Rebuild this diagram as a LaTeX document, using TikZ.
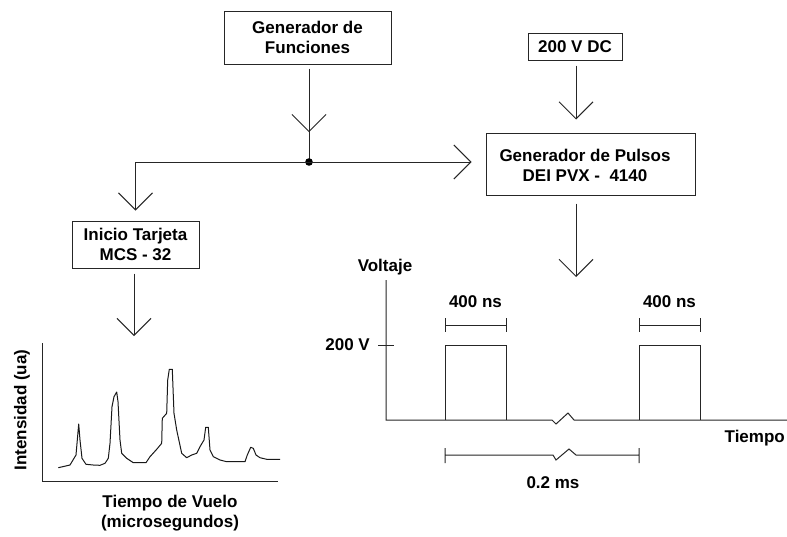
\documentclass[tikz,border=0pt]{standalone}
\usepackage{fontspec}
\setmainfont{Liberation Sans}
\usetikzlibrary{arrows.meta,decorations.markings,calc}
\begin{document}
\begin{tikzpicture}[x=1pt,y=-1pt,
  every node/.style={font=\fontsize{17}{20}\selectfont\bfseries, inner sep=0pt, align=center},
  box/.style={draw=black!85, line width=1pt},
  ln/.style={draw=black!85, line width=1pt},
  vhead/.style={-{Straight Barb[length=17pt,width=34pt,line width=1pt]}},
  midv/.style={postaction={decorate},decoration={markings,
      mark=at position #1 with {\arrow{Straight Barb[length=17pt,width=34pt,line width=1pt]}}}}
]
\fill[white] (0,0) rectangle (787,536);
\useasboundingbox (0,0) rectangle (787,536);

% boxes
\node[box, minimum width=167pt, minimum height=53pt] (fun) at (307.5,37.5) {Generador de\\Funciones};
\node[box, minimum width=94pt, minimum height=27pt] (dc) at (575,46.5) {200 V DC};
\node[box, minimum width=209pt, minimum height=62pt] (pul) at (590.5,164) {};
\node (pultxt) at (585,165) {Generador de Pulsos\\DEI PVX -\ \ 4140};
\node[box, minimum width=127pt, minimum height=47pt] (ini) at (135.5,244.5) {Inicio Tarjeta\\MCS - 32};

% connectors
\coordinate (jn) at (309,162);
\draw[ln, midv=0.681] ($(jn |- fun.south)+(0,4)$) -- (jn);
\fill[black] (jn) circle (3.8pt);
\draw[ln, vhead] (jn) -- ($(jn -| pul.west)+(-14,0)$);
\draw[ln, vhead] (jn) -| ($(ini.north)+(0,-10)$);
\draw[ln, vhead] ($(dc.south)+(1,5)$) -- ($(dc.south |- pul.north)+(1,-13)$);
\coordinate (pend) at (576,277);
\draw[ln, vhead] ($(pend |- pul.south)+(0,8)$) -- (pend);
\coordinate (iend) at (134,336);
\draw[ln, vhead] ($(iend |- ini.south)+(0,5)$) -- (iend);

% spectrum
\draw[ln] (42,343) -- (42,481) -- (278,481);
\draw[line width=1pt, black!90, line join=round]
 (58.3,467.7) -- (70,465) -- (74,458.3) -- (76,455) -- (77.3,440) -- (78.7,424) -- (80,440)
 -- (82,458.3) -- (86,464.3) -- (93.3,465) -- (100,465.3) -- (105,463.3) -- (108.3,458.3)
 -- (110,443.3) -- (112,406.7) -- (114,396.7) -- (116.7,392) -- (118,401.7) -- (120,440)
 -- (121.7,453.3) -- (126.7,458.3) -- (133.3,462.7) -- (146,462.7) -- (150,456.7)
 -- (156.7,449.3) -- (161.7,443.3) -- (162.3,418.3) -- (166.7,413.3) -- (167.7,380)
 -- (169.3,369.3) -- (172.3,369.3) -- (172.7,380) -- (174,413.3) -- (176.7,430)
 -- (181.7,453.3) -- (186.7,457.7) -- (191.7,455) -- (196.7,453.3) -- (200,446.7)
 -- (204,440) -- (205.7,427.3) -- (208.3,427.3) -- (210,450) -- (213.3,456.7)
 -- (220,460) -- (226.7,461.7) -- (245,461.7) -- (247.3,455) -- (250.7,447.3)
 -- (253.3,448.3) -- (256,455) -- (260,457.7) -- (266.7,459.3) -- (280,459.3);
\node[rotate=90] (int) at (22,410) {Intensidad (ua)};
\node (tv) at (170,513) {Tiempo de Vuelo\\(microsegundos)};

% pulse diagram
\draw[ln] (386,280) -- (386,420) -- (552,420) -- (556,424) -- (568,413) -- (574,420) -- (790,420);
\draw[ln] (378,345) -- (394,345);
\draw[ln] (445,420) -- (445,345) -- (506,345) -- (506,420);
\draw[ln] (639,420) -- (639,345) -- (700,345) -- (700,420);
\draw[ln] (445,318) -- (445,332) (445,325) -- (506,325) (506,318) -- (506,332);
\draw[ln] (639,318) -- (639,332) (639,325) -- (700,325) (700,318) -- (700,332);
\draw[ln] (445,448) -- (445,463) (445,455) -- (553,455) -- (556,460) -- (569,449) -- (576,455) -- (639,455) (639,448) -- (639,463);
\node (volt) at (385,267) {Voltaje};
\node[anchor=east] (v200) at (370,345) {200 V};
\node (ns1) at (475.5,302) {400 ns};
\node (ns2) at (669.5,302) {400 ns};
\node (ms) at (553,483) {0.2 ms};
\node[anchor=east] (tiempo) at (785,438) {Tiempo};
\end{tikzpicture}
\end{document}
